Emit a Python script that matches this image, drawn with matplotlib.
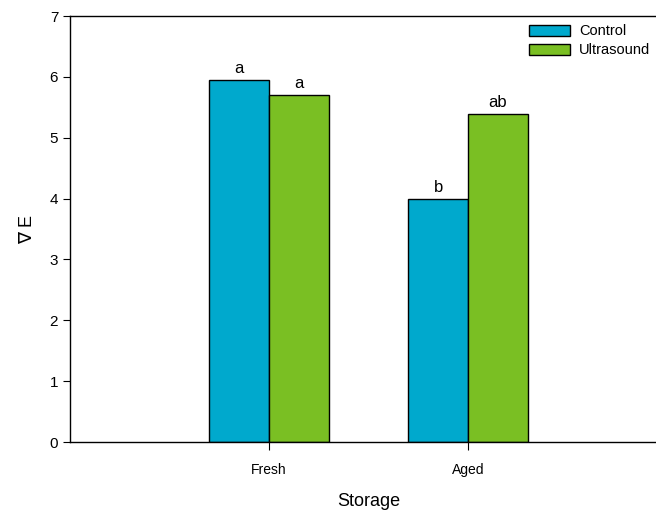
import matplotlib.pyplot as plt
import numpy as np

plt.rcParams['font.family'] = ['Liberation Sans', 'DejaVu Sans']

storage = ['Fresh', 'Aged']
control = [5.95, 4.0]
ultrasound = [5.70, 5.39]
control_letters = ['a', 'b']
ultrasound_letters = ['a', 'ab']

col_control = '#00a9cd'
col_ultra = '#7abf23'

fig = plt.figure(figsize=(6.56, 5.15), dpi=100)
# axes run past the right edge of the figure
ax = fig.add_axes([70 / 656, 73 / 515, 597 / 656, 426 / 515])

x = np.arange(len(storage))
w = 0.3
b1 = ax.bar(x - w / 2, control, w, color=col_control, edgecolor='black', linewidth=1, label='Control')
b2 = ax.bar(x + w / 2, ultrasound, w, color=col_ultra, edgecolor='black', linewidth=1, label='Ultrasound')

for rect, txt in zip(b1, control_letters):
    ax.text(rect.get_x() + rect.get_width() / 2, rect.get_height() + 0.06, txt,
            ha='center', va='bottom', fontsize=12)
for rect, txt in zip(b2, ultrasound_letters):
    ax.text(rect.get_x() + rect.get_width() / 2, rect.get_height() + 0.06, txt,
            ha='center', va='bottom', fontsize=12)

ax.set_xlim(-1, 2)
ax.set_ylim(0, 7)
ax.set_xticks(x)
ax.set_xticklabels(storage, fontsize=10)
ax.set_yticks(range(8))
ax.tick_params(axis='y', labelsize=11, length=5, direction='out')
ax.tick_params(axis='x', length=6, direction='out', pad=9)
ax.spines['right'].set_visible(False)
for s in ['left', 'bottom', 'top']:
    ax.spines[s].set_linewidth(1)

ax.set_xlabel('Storage', fontsize=13, labelpad=12)
ax.set_ylabel('\u2207 E', fontsize=13, labelpad=10)

fig.legend(handles=[b1, b2], loc='upper left', bbox_to_anchor=(525 / 656, 1 - 20 / 515),
           frameon=False, fontsize=10.5, handlelength=2.8, handleheight=0.75,
           labelspacing=0.35, handletextpad=0.6, borderaxespad=0, borderpad=0.3)

fig.savefig('out.png', dpi=100)
